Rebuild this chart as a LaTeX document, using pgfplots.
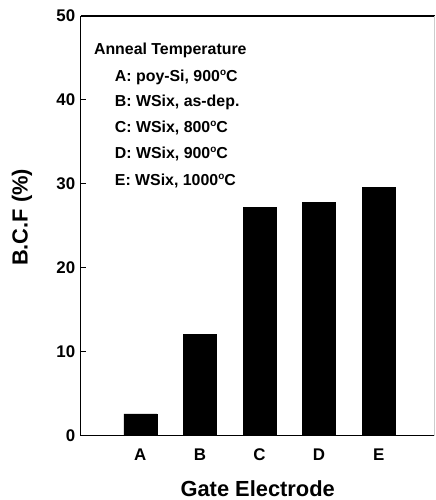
\documentclass[border=0pt]{standalone}
\usepackage{pgfplots}
\pgfplotsset{compat=1.18}
\usepackage{fontspec}
\setmainfont{Liberation Sans}
\newcommand{\dg}{\raisebox{0.7ex}{\fontsize{10}{10}\selectfont o}}
\begin{document}
\begin{tikzpicture}
\begin{axis}[
  scale only axis,
  width=355bp, height=421bp,
  xmin=0, xmax=5.94,
  ymin=0, ymax=50,
  xtick={1,2,3,4,5},
  xticklabels={A,B,C,D,E},
  ytick={0,10,20,30,40,50},
  ytick pos=left,
  major tick length=5bp,
  xtick style={draw=none},
  ytick style={line width=1pt, black},
  axis line style={draw=none},
  /pgf/number format/assume math mode=true,
  tick label style={font=\fontsize{17}{20}\selectfont\bfseries},
  xticklabel style={yshift=-10bp},
  yticklabel style={xshift=-2bp},
  xlabel={Gate Electrode},
  ylabel={B.C.F (\%)},
  label style={font=\fontsize{22}{26}\selectfont\bfseries},
  xlabel style={at={(axis description cs:0.5,0)}, anchor=base, yshift=-61bp},
  ylabel style={at={(axis description cs:-0.166,0.52)}, anchor=center},
  clip=false,
]
\addplot[ybar, bar width=33bp, fill=black, draw=black] coordinates {
 (1,2.6) (2,12.1) (3,27.2) (4,27.8) (5,29.6)
};
\draw[line width=1.5pt] (rel axis cs:0,1) -- (rel axis cs:0,0) -- (rel axis cs:1,0);
\draw[line width=1.3pt] (rel axis cs:0,1) -- (rel axis cs:1,1);
\draw[line width=0.4pt, gray!40] (rel axis cs:1,0) -- (rel axis cs:1,1);
\begin{scope}[every node/.style={anchor=west, inner sep=0pt, font=\fontsize{16}{19}\selectfont\bfseries}]
\node at (rel axis cs:0.037,0.917) {Anneal Temperature};
\node at (rel axis cs:0.096,0.853) {A: poy-Si, 900\dg C};
\node at (rel axis cs:0.096,0.793) {B: WSix, as-dep.};
\node at (rel axis cs:0.096,0.734) {C: WSix, 800\dg C};
\node at (rel axis cs:0.096,0.672) {D: WSix, 900\dg C};
\node at (rel axis cs:0.096,0.608) {E: WSix, 1000\dg C};
\end{scope}
\end{axis}
\path ([shift={(-81bp,-63bp)}]current axis.south west) rectangle ([shift={(1bp,16bp)}]current axis.north east);
\end{tikzpicture}
\end{document}
